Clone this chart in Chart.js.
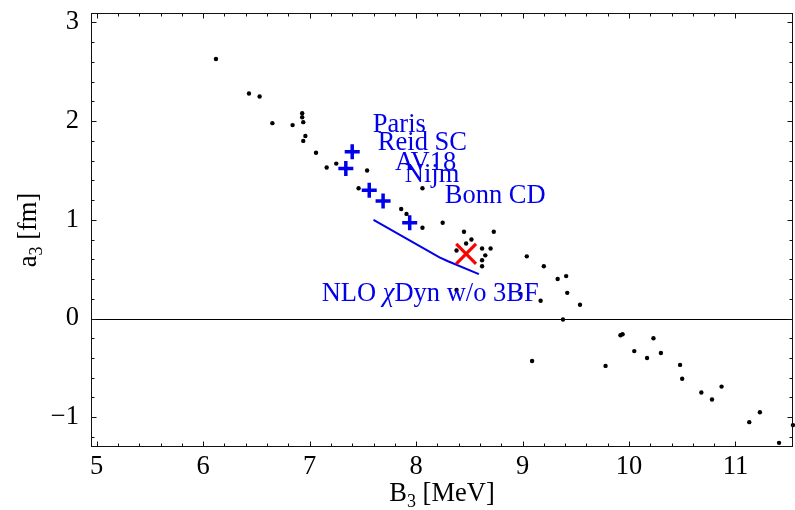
<!DOCTYPE html>
<html>
<head>
<meta charset="utf-8">
<script src="https://cdn.jsdelivr.net/npm/chart.js@4/dist/chart.umd.min.js"></script>
<style>
  html, body { margin: 0; padding: 0; background: #fff; }
  #c { display: block; }
</style>
</head>
<body>
<canvas id="c" width="795" height="510"></canvas>
<script>
// ---- data ----
// theoretical model calculations (black dots): triton binding energy B3 [MeV] vs. nd doublet scattering length a3 [fm]
const modelB3 = [6.12, 6.43, 6.53, 6.65, 6.84, 6.93, 6.93, 6.94, 6.96, 6.94, 7.06, 7.16, 7.25, 7.54, 7.46, 8.06,
  7.86, 7.91, 8.06, 8.25, 8.45, 8.73, 8.52, 8.47, 8.38, 8.62, 8.70, 8.65, 8.62, 8.62, 9.04, 9.20, 9.33, 8.38,
  9.41, 9.42, 9.54, 8.98, 9.17, 9.38, 9.09, 9.78, 9.92, 9.94, 10.05, 10.17, 10.23, 10.30, 10.48, 10.50, 10.68,
  10.78, 10.87, 11.13, 11.23, 11.41, 11.54];
const modelA3 = [2.63, 2.28, 2.25, 1.98, 1.96, 2.08, 2.04, 1.99, 1.85, 1.80, 1.68, 1.53, 1.57, 1.50, 1.32, 1.32,
  1.11, 1.06, 0.92, 0.97, 0.88, 0.88, 0.80, 0.76, 0.69, 0.71, 0.71, 0.64, 0.59, 0.53, 0.63, 0.53, 0.40, 0.29,
  0.43, 0.26, 0.14, 0.25, 0.18, -0.01, -0.43, -0.48, -0.17, -0.16, -0.33, -0.40, -0.20, -0.35, -0.47, -0.61, -0.75,
  -0.82, -0.69, -1.05, -0.95, -1.26, -1.08];

// realistic NN potentials (blue crosses)
const potentialNames = ['Paris', 'Reid SC', 'AV18', 'Nijm', 'Bonn CD'];
const potentialB3 = [7.40, 7.34, 7.56, 7.69, 7.94];
const potentialA3 = [1.69, 1.52, 1.30, 1.19, 0.97];

// NLO chiral dynamics without 3BF (blue line)
const nloB3 = [7.60, 8.22, 8.30, 8.59];
const nloA3 = [1.00, 0.62, 0.58, 0.45];

// experiment (red X)
const exptB3 = [8.47];
const exptA3 = [0.655];

// axis tick labels
const xTicks = [5, 6, 7, 8, 9, 10, 11];
const yTicks = [-1, 0, 1, 2, 3];

// ---- helpers ----
const pts = (xs, ys) => xs.map((x, i) => ({ x: x, y: ys[i] }));
const FONT = 'Liberation Serif, Times New Roman, serif';
const BLUE = 'rgb(0,0,235)';

// annotation placement (label text anchored in data coordinates)
const labelPlacement = [
  { text: potentialNames[0], x: 7.594, y: 1.887 },
  { text: potentialNames[1], x: 7.641, y: 1.705 },
  { text: potentialNames[2], x: 7.801, y: 1.502 },
  { text: potentialNames[3], x: 7.894, y: 1.383 },
  { text: potentialNames[4], x: 8.270, y: 1.170 }
];
const nloLabel = { x: 7.113, y: 0.174 };

const framePlugin = {
  id: 'frame',
  beforeDatasetsDraw(chart) {
    const ctx = chart.ctx, a = chart.chartArea;
    const ys = chart.scales.y;
    ctx.save();
    ctx.strokeStyle = '#000';
    ctx.lineWidth = 1;
    const y0 = Math.round(ys.getPixelForValue(0)) + 0.5;
    ctx.beginPath(); ctx.moveTo(a.left, y0); ctx.lineTo(a.right, y0); ctx.stroke();
    ctx.restore();
  },
  afterDraw(chart) {
    const ctx = chart.ctx, a = chart.chartArea;
    const xs = chart.scales.x, ys = chart.scales.y;
    ctx.save();
    ctx.strokeStyle = '#111';
    ctx.lineWidth = 1;
    const L = Math.round(a.left) + 0.5, R = Math.round(a.right) - 0.5;
    const T = Math.round(a.top) + 0.5, B = Math.round(a.bottom) - 0.5;
    ctx.strokeRect(L, T, R - L, B - T);
    ctx.beginPath();
    for (let k = 0; k <= 35; k++) {
      const v = 4 + k * 0.2;
      if (v < xs.min - 1e-9 || v > xs.max + 1e-9) continue;
      const major = Math.abs(v - Math.round(v)) < 1e-6;
      const len = major ? 5 : 3;
      const px = Math.round(xs.getPixelForValue(v)) + 0.5;
      ctx.moveTo(px, B); ctx.lineTo(px, B - len);
      ctx.moveTo(px, T); ctx.lineTo(px, T + len);
    }
    for (let k = 0; k <= 25; k++) {
      const v = -2 + k * 0.2;
      if (v < ys.min - 1e-9 || v > ys.max + 1e-9) continue;
      const major = Math.abs(v - Math.round(v)) < 1e-6;
      const len = major ? 5 : 3;
      const py = Math.round(ys.getPixelForValue(v)) + 0.5;
      ctx.moveTo(L, py); ctx.lineTo(L + len, py);
      ctx.moveTo(R, py); ctx.lineTo(R - len, py);
    }
    ctx.stroke();

    // potential labels
    ctx.fillStyle = BLUE;
    ctx.textBaseline = 'alphabetic';
    ctx.textAlign = 'left';
    ctx.font = '26.5px ' + FONT;
    labelPlacement.forEach(l => {
      ctx.fillText(l.text, xs.getPixelForValue(l.x), ys.getPixelForValue(l.y));
    });
    // NLO label with italic chi
    let nx = xs.getPixelForValue(nloLabel.x), ny = ys.getPixelForValue(nloLabel.y);
    ctx.font = '26.5px ' + FONT;
    ctx.fillText('NLO ', nx, ny); nx += ctx.measureText('NLO ').width;
    ctx.font = 'italic 26.5px ' + FONT;
    ctx.fillText('\u03C7', nx, ny); nx += ctx.measureText('\u03C7').width;
    ctx.font = '26.5px ' + FONT;
    ctx.fillText('Dyn w/o 3BF', nx, ny);

    // axis titles with subscripts
    ctx.fillStyle = '#000';
    const big = '26.5px ' + FONT, small = '18px ' + FONT;
    ctx.font = big; const wB = ctx.measureText('B').width, wRest = ctx.measureText(' [MeV]').width;
    ctx.font = small; const w3 = ctx.measureText('3').width;
    const total = wB + w3 + wRest;
    let tx = (a.left + a.right) / 2 - total / 2, ty = 501;
    ctx.font = big; ctx.fillText('B', tx, ty); tx += wB;
    ctx.font = small; ctx.fillText('3', tx, ty + 6); tx += w3;
    ctx.font = big; ctx.fillText(' [MeV]', tx, ty);
    ctx.save();
    ctx.translate(36, (a.top + a.bottom) / 2);
    ctx.rotate(-Math.PI / 2);
    ctx.font = big; const wa = ctx.measureText('a').width, wfm = ctx.measureText(' [fm]').width;
    ctx.font = small; const w3b = ctx.measureText('3').width;
    let ux = -(wa + w3b + wfm) / 2;
    ctx.font = big; ctx.fillText('a', ux, 0); ux += wa;
    ctx.font = small; ctx.fillText('3', ux, 6); ux += w3b;
    ctx.font = big; ctx.fillText(' [fm]', ux, 0);
    ctx.restore();
    ctx.restore();
  }
};

new Chart(document.getElementById('c'), {
  type: 'scatter',
  data: {
    datasets: [
      {
        label: 'Experiment',
        data: pts(exptB3, exptA3),
        pointStyle: 'crossRot', pointRadius: 14, pointBorderWidth: 3.2,
        borderColor: '#ff0000', backgroundColor: '#ff0000', order: 0
      },
      {
        label: 'NLO chiral dynamics w/o 3BF',
        type: 'line',
        data: pts(nloB3, nloA3),
        showLine: true, borderColor: BLUE, borderWidth: 2, pointRadius: 0, tension: 0, fill: false, order: 1
      },
      {
        label: 'NN potentials',
        data: pts(potentialB3, potentialA3),
        pointStyle: 'cross', pointRadius: 7.5, pointBorderWidth: 3.5,
        borderColor: BLUE, backgroundColor: BLUE, order: 2
      },
      {
        label: 'Models',
        data: pts(modelB3, modelA3),
        pointStyle: 'circle', pointRadius: 2.2, pointBorderWidth: 0,
        borderColor: '#000', backgroundColor: '#000', order: 3, clip: 3
      }
    ]
  },
  options: {
    responsive: false,
    animation: false,
    events: [],
    layout: { autoPadding: false, padding: { top: 13, right: 2, left: 0, bottom: 0 } },
    plugins: { legend: { display: false }, tooltip: { enabled: false } },
    scales: {
      x: {
        type: 'linear', min: 4.946, max: 11.541,
        afterBuildTicks: s => { s.ticks = xTicks.map(v => ({ value: v })); },
        afterFit: s => { s.height = 63; s.paddingLeft = 0; s.paddingRight = 0; },
        grid: { display: false, drawTicks: false },
        border: { display: false },
        ticks: { color: '#000', font: { family: FONT, size: 26.5 }, padding: 4, maxRotation: 0, autoSkip: false },
        title: { display: false }
      },
      y: {
        type: 'linear', min: -1.302, max: 3.096,
        afterBuildTicks: s => { s.ticks = yTicks.map(v => ({ value: v })); },
        afterFit: s => { s.width = 91; s.paddingTop = 0; s.paddingBottom = 0; },
        grid: { display: false, drawTicks: false },
        border: { display: false },
        ticks: {
          color: '#000', font: { family: FONT, size: 26.5 }, padding: 12, autoSkip: false,
          callback: v => (v < 0 ? '\u2212' + Math.abs(v) : String(v))
        },
        title: { display: false }
      }
    }
  },
  plugins: [framePlugin]
});
</script>
</body>
</html>
